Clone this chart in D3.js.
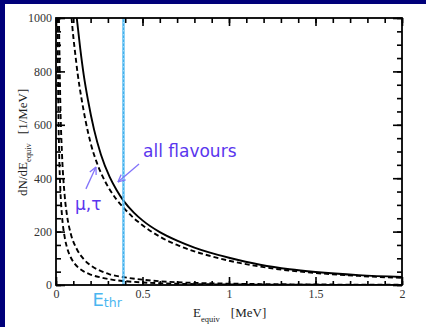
<!DOCTYPE html>
<html><head><meta charset="utf-8">
<script src="https://cdn.jsdelivr.net/npm/d3@7"></script>
<style>html,body{margin:0;padding:0;background:#00007a;overflow:hidden}svg{display:block}</style>
</head><body>
<script>
// Equivalent-energy spectra: E in MeV, dN/dE in 1/MeV
const energyAll   = [0.12, 0.14, 0.16, 0.185, 0.22, 0.26, 0.31, 0.35, 0.393, 0.45, 0.5, 0.6, 0.7, 0.8, 0.89, 1.0, 1.18, 1.35, 1.5, 1.75, 2.0];
const allFlavours = [1000, 886, 788, 692, 582, 488, 405, 356, 313, 271, 242, 198, 166, 140, 121, 102, 76, 59, 48.7, 37, 30];

const energyMuTau = [0.09, 0.1, 0.11, 0.125, 0.148, 0.17, 0.2, 0.235, 0.27, 0.31, 0.35, 0.393, 0.45, 0.5, 0.6, 0.7, 0.8, 0.89, 1.0, 1.18, 1.35, 1.5, 1.75, 2.0];
const muTau       = [1000, 930, 873, 792, 696, 618, 532, 460, 406, 358, 320, 288, 250, 224, 181, 150, 126, 109, 91, 69, 54, 45, 34, 26.5];

const energyLowA  = [0.017, 0.025, 0.035, 0.05, 0.065, 0.085, 0.12, 0.16, 0.21, 0.26, 0.31, 0.39, 0.5, 0.6, 0.7, 0.85, 1.0, 1.3, 1.6, 2.0];
const lowA        = [1000, 680, 486, 336, 255, 193, 135, 97, 69, 52, 40, 29.5, 20, 14, 10.4, 7, 5, 2.7, 1.6, 0.8];

const energyLowB  = [0.009, 0.013, 0.018, 0.025, 0.035, 0.05, 0.065, 0.085, 0.11, 0.15, 0.2, 0.26, 0.33, 0.39, 0.5, 0.6, 0.75, 0.9, 1.2, 1.6, 2.0];
const lowB        = [1000, 692, 500, 360, 257, 180, 137, 104, 78, 55, 39, 28, 19.4, 14.9, 9.6, 6.7, 4, 2.6, 1.25, 0.56, 0.3];

const xTicks = [0, 0.5, 1, 1.5, 2];
const xTickLabels = ["0", "0.5", "1", "1.5", "2"];
const xMinorTicks = d3.range(0, 2.0001, 0.1);
const yTicks = [0, 200, 400, 600, 800, 1000];
const yTickLabels = ["0", "200", "400", "600", "800", "1000"];
const yMinorTicks = d3.range(0, 1000.1, 50);
const eThreshold = 0.39;

const W = 426, H = 327;
const svg = d3.select("body").append("svg").attr("width", W).attr("height", H);

// navy frame on the left and top, white page
svg.append("rect").attr("width", W).attr("height", H).attr("fill", "#00007a");
svg.append("rect").attr("x", 5).attr("y", 4).attr("width", W - 5).attr("height", H - 4).attr("fill", "#ffffff");

const x = d3.scaleLinear().domain([0, 2]).range([56, 402]);
const y = d3.scaleLinear().domain([0, 1000]).range([285, 18]);
const [x0, x1] = x.range();
const [y0, y1] = y.range();

svg.append("clipPath").attr("id", "plot")
  .append("rect").attr("x", x0).attr("y", y1).attr("width", x1 - x0).attr("height", y0 - y1);

const serif = "'Liberation Serif', 'Times New Roman', serif";
const sans = "'DejaVu Sans', Verdana, sans-serif";

// axes with inward ticks on all four sides
function styleAxis(g) {
  g.select(".domain").remove();
  g.selectAll(".tick line").attr("stroke", "#000").attr("stroke-width", 1.6);
  g.selectAll(".tick text").attr("font-family", serif).attr("font-size", 12).attr("fill", "#333");
}
svg.append("g").attr("transform", `translate(0,${y0})`)
  .call(d3.axisBottom(x).tickValues(xMinorTicks).tickSize(-4).tickFormat("")).call(styleAxis);
svg.append("g").attr("transform", `translate(0,${y0})`)
  .call(d3.axisBottom(x).tickValues(xTicks).tickSize(-8).tickPadding(4)
    .tickFormat((d, i) => xTickLabels[i])).call(styleAxis);
svg.append("g").attr("transform", `translate(0,${y1})`)
  .call(d3.axisTop(x).tickValues(xMinorTicks).tickSize(-5).tickFormat("")).call(styleAxis);
svg.append("g").attr("transform", `translate(0,${y1})`)
  .call(d3.axisTop(x).tickValues(xTicks).tickSize(-8).tickFormat("")).call(styleAxis);
svg.append("g").attr("transform", `translate(${x0},0)`)
  .call(d3.axisLeft(y).tickValues(yMinorTicks).tickSize(-5).tickFormat("")).call(styleAxis);
svg.append("g").attr("transform", `translate(${x0},0)`)
  .call(d3.axisLeft(y).tickValues(yTicks).tickSize(-9).tickPadding(4)
    .tickFormat((d, i) => yTickLabels[i])).call(styleAxis);
svg.append("g").attr("transform", `translate(${x1},0)`)
  .call(d3.axisRight(y).tickValues(yMinorTicks).tickSize(-5).tickFormat("")).call(styleAxis);
svg.append("g").attr("transform", `translate(${x1},0)`)
  .call(d3.axisRight(y).tickValues(yTicks).tickSize(-9).tickFormat("")).call(styleAxis);

// spectra
const line = d3.line().x(d => x(d[0])).y(d => y(d[1])).curve(d3.curveMonotoneX);
const curves = svg.append("g").attr("clip-path", "url(#plot)");
const series = [
  { e: energyLowB, v: lowB, dash: "5,3" },
  { e: energyLowA, v: lowA, dash: "5,3" },
  { e: energyMuTau, v: muTau, dash: "5,3" },
  { e: energyAll, v: allFlavours, dash: null }
];
series.forEach(s => {
  curves.append("path")
    .datum(s.e.map((e, i) => [e, s.v[i]]))
    .attr("d", line)
    .attr("fill", "none")
    .attr("stroke", "#000")
    .attr("stroke-width", 1.9)
    .attr("stroke-dasharray", s.dash);
});

// threshold energy marker
svg.append("line")
  .attr("x1", x(eThreshold)).attr("x2", x(eThreshold)).attr("y1", y1).attr("y2", y0)
  .attr("stroke", "#3fb0ee").attr("stroke-width", 2.2);
svg.append("line")
  .attr("x1", x(eThreshold)).attr("x2", x(eThreshold)).attr("y1", y1).attr("y2", y0)
  .attr("stroke", "#b8e4fb").attr("stroke-width", 0.8).attr("stroke-dasharray", "1.5,2.5");

// frame
svg.append("rect").attr("x", x0).attr("y", y1).attr("width", x1 - x0).attr("height", y0 - y1)
  .attr("fill", "none").attr("stroke", "#000").attr("stroke-width", 1.8);

// axis titles
const xt = svg.append("text").attr("x", 193).attr("y", 317)
  .attr("font-family", serif).attr("font-size", 13).attr("fill", "#222");
xt.append("tspan").text("E");
xt.append("tspan").attr("font-size", 8.5).attr("dy", 5).text("equiv");
xt.append("tspan").attr("dy", -5).attr("dx", 11).text("[MeV]");

const yt = svg.append("text").attr("transform", "translate(27,196) rotate(-90)")
  .attr("font-family", serif).attr("font-size", 13).attr("fill", "#222");
yt.append("tspan").text("dN/dE");
yt.append("tspan").attr("font-size", 8.5).attr("dy", 4).text("equiv");
yt.append("tspan").attr("dy", -4).attr("dx", 9).text("[1/MeV]");

// annotations
const labelColor = "#5a36ee";
const arrowColor = "#8374fa";
function arrow(from, to) {
  const [ax, ay] = [x(from[0]), y(from[1])];
  const [bx, by] = [x(to[0]), y(to[1])];
  const ang = Math.atan2(by - ay, bx - ax);
  const g = svg.append("g").attr("stroke", arrowColor).attr("stroke-width", 1.3).attr("fill", "none");
  g.append("line").attr("x1", ax).attr("y1", ay).attr("x2", bx).attr("y2", by);
  [-0.45, 0.45].forEach(da => {
    g.append("line").attr("x1", bx).attr("y1", by)
      .attr("x2", bx - 8 * Math.cos(ang + da)).attr("y2", by - 8 * Math.sin(ang + da));
  });
}
arrow([0.48, 453], [0.358, 386]);
arrow([0.173, 360], [0.231, 442]);

svg.append("text").attr("x", x(0.503)).attr("y", y(480))
  .attr("font-family", sans).attr("font-size", 17).attr("fill", labelColor).text("all flavours");
svg.append("text").attr("x", x(0.11)).attr("y", y(281))
  .attr("font-family", sans).attr("font-size", 17).attr("fill", labelColor).text("μ,τ");

const et = svg.append("text").attr("x", x(eThreshold) - 31).attr("y", 306)
  .attr("font-family", sans).attr("font-size", 18).attr("fill", "#4ab6f0");
et.append("tspan").text("E");
et.append("tspan").attr("font-size", 12.5).attr("dy", 1).text("thr");
</script>
</body></html>
